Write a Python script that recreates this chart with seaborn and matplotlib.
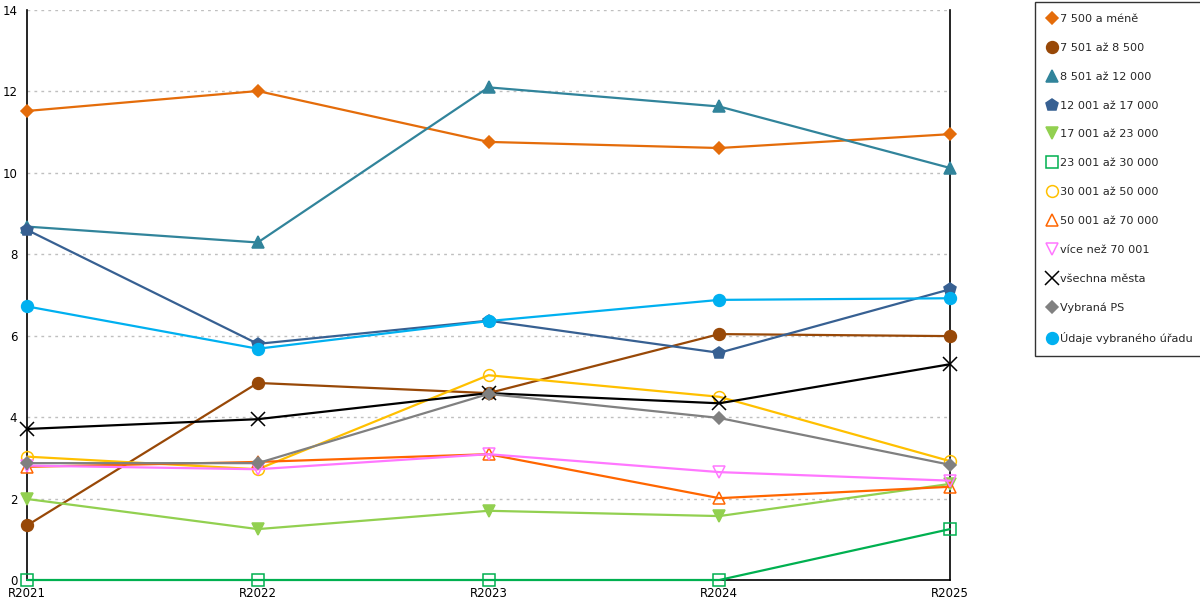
import pandas as pd
import matplotlib
matplotlib.use("Agg")
import matplotlib.pyplot as plt
from matplotlib.lines import Line2D
import seaborn as sns

years = ["R2021", "R2022", "R2023", "R2024", "R2025"]

do_7500 = [11.52, 12.01, 10.76, 10.61, 10.95]
od_7501 = [1.34, 4.84, 4.59, 6.04, 5.99]
od_8501 = [8.68, 8.29, 12.10, 11.63, 10.12]
od_12001 = [8.60, 5.80, 6.37, 5.58, 7.14]
od_17001 = [1.99, 1.25, 1.70, 1.57, 2.36]
od_23001 = [0.0, 0.0, 0.0, 0.0, 1.25]
od_30001 = [3.03, 2.72, 5.03, 4.50, 2.92]
od_50001 = [2.78, 2.90, 3.09, 2.01, 2.29]
nad_70001 = [2.81, 2.72, 3.09, 2.65, 2.44]
vsechna = [3.71, 3.95, 4.59, 4.34, 5.30]
vybrana_ps = [2.87, 2.87, 4.57, 3.98, 2.83]
urad = [6.72, 5.68, 6.36, 6.88, 6.92]

labels = [
    "7 500 a méně", "7 501 až 8 500", "8 501 až 12 000", "12 001 až 17 000",
    "17 001 až 23 000", "23 001 až 30 000", "30 001 až 50 000", "50 001 až 70 000",
    "více než 70 001", "všechna města", "Vybraná PS", "Údaje vybraného úřadu",
]
values = [do_7500, od_7501, od_8501, od_12001, od_17001, od_23001,
          od_30001, od_50001, nad_70001, vsechna, vybrana_ps, urad]

# colour, marker, filled
styles = [
    ("#E46C0A", "D", True),
    ("#984807", "o", True),
    ("#31849B", "^", True),
    ("#376092", "p", True),
    ("#92D050", "v", True),
    ("#00B050", "s", False),
    ("#FFC000", "o", False),
    ("#FF6600", "^", False),
    ("#FF77FF", "v", False),
    ("#000000", "x", True),
    ("#808080", "D", True),
    ("#00B0F0", "o", True),
]
sizes = {"D": 6.5, "o": 8.5, "^": 8.5, "p": 9, "v": 8.5, "s": 8.5, "x": 9.5}

rows = []
for lab, vals in zip(labels, values):
    for i, v in enumerate(vals):
        rows.append({"serie": lab, "pos": i, "hodnota": v})
df = pd.DataFrame(rows)

sns.set_style("white")
plt.rcParams["font.family"] = ["DejaVu Sans"]
plt.rcParams["font.size"] = 8

fig = plt.figure(figsize=(12, 6), dpi=100)
ax = fig.add_axes([27 / 1200, 20 / 600, 923 / 1200, 570 / 600])

handles = []
for lab, (col, mk, filled) in zip(labels, styles):
    sub = df[df["serie"] == lab]
    fc = col if filled else "none"
    sns.lineplot(data=sub, x="pos", y="hodnota", ax=ax, color=col, linewidth=1.6,
                 marker=mk, markersize=sizes[mk], markerfacecolor=fc,
                 markeredgecolor=col, markeredgewidth=1.1, clip_on=False,
                 legend=False, zorder=3)
    handles.append(Line2D([], [], linestyle="none", marker=mk, color=col,
                          markerfacecolor=fc, markeredgecolor=col,
                          markersize=sizes[mk], markeredgewidth=1.1))

ax.set_xlim(0, 4)
ax.set_ylim(0, 14)
ax.set_xticks(range(len(years)))
ax.set_xticklabels(years)
ax.set_xticks([0.5, 1.5, 2.5, 3.5], minor=True)
ax.set_yticks(range(0, 15, 2))
ax.tick_params(axis="both", which="both", direction="inout", length=8, width=1,
               labelsize=8.5, colors="black", pad=3)
ax.tick_params(axis="x", which="major", length=0, pad=5)
ax.set_xlabel("")
ax.set_ylabel("")

ax.yaxis.grid(True, linestyle=(0, (2, 3)), color="#BFBFBF", linewidth=1)
ax.xaxis.grid(False)
ax.spines["top"].set_visible(False)
for s in ["left", "right", "bottom"]:
    ax.spines[s].set_visible(True)
    ax.spines[s].set_color("black")
    ax.spines[s].set_linewidth(1.2)

fig.legend(handles, labels, loc="upper left", bbox_to_anchor=(1035 / 1200, 1 - 2 / 600),
           frameon=True, fancybox=False, edgecolor="black", fontsize=8.1,
           labelspacing=1.68, handlelength=0.9, handletextpad=0.3,
           borderpad=1.05, borderaxespad=0)

fig.savefig("out.png", dpi=100)
